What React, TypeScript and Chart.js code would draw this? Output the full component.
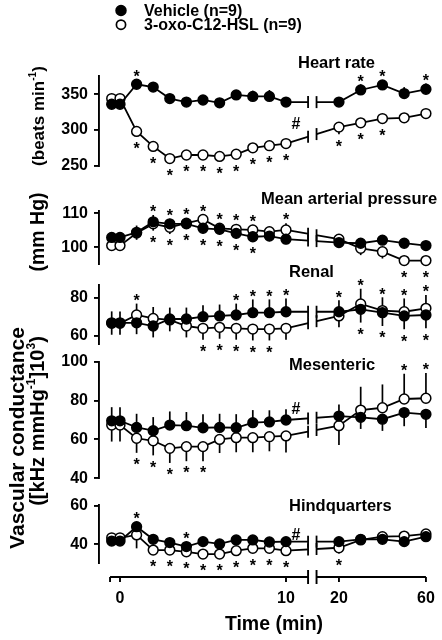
import React, { useEffect, useRef } from "react";
import { Chart, registerables } from "chart.js";

Chart.register(...registerables);

const FONT = '"Liberation Sans", Arial, Helvetica, sans-serif';
Chart.defaults.font.family = FONT;

const W = 442;
const H = 640;

// ---------------- data ----------------
const TIMES = [-0.5, 0, 1, 2, 3, 4, 5, 6, 7, 8, 9, 10, 20, 30, 40, 50, 60];

const X_TICK_TIMES = [0, 10, 20, 60];
const X_TICK_LABELS = ["0", "10", "20", "60"];

// Heart rate (beats/min)
const HR_VEHICLE = [336, 336, 364, 360, 344, 339, 342, 338, 349, 347, 347, 339, 339, 356, 363, 351, 357];
const HR_VEHICLE_SEM = [4, 4, 7, 6, 4, 4, 7, 4, 7, 8, 9, 7, 3, 8, 5, 9, 8];
const HR_OXO = [344, 344, 298, 277, 260, 265, 265, 263, 266, 275, 278, 281, 304, 310, 316, 317, 323];
const HR_OXO_SEM = [4, 4, 7, 7, 6, 5, 5, 5, 5, 5, 5, 5, 10, 6, 7, 4, 4];
const HR_STARS_ABOVE = [1, 30, 40, 60];
const HR_STARS_BELOW = [1, 2, 3, 4, 5, 6, 7, 8, 9, 10, 20, 30, 40];
const HR_TICKS = [250, 300, 350];
const HR_HASH = { t: 10.6, v: 309 };

// Mean arterial pressure (mm Hg)
const MAP_VEHICLE = [102.9, 102.9, 104.4, 107.5, 106.9, 106.9, 105.6, 105.3, 104.1, 103.1, 103.3, 102.4, 101.4, 101.2, 102.1, 101.2, 100.5];
const MAP_VEHICLE_SEM = [1.5, 1.5, 2, 2, 1.5, 1.5, 1.5, 1.5, 1.5, 1.5, 1.5, 1.5, 1.5, 1.5, 1.5, 1.2, 1.2];
const MAP_OXO = [100.5, 100.5, 104.2, 106.9, 105.9, 107.1, 108.2, 105.6, 105.3, 105.1, 104.6, 105.1, 102.4, 99.7, 98.7, 96.1, 96.1];
const MAP_OXO_SEM = [1.5, 1.5, 2, 2, 2, 1.5, 1.5, 1.5, 1.5, 1.5, 1.5, 2, 1.5, 2, 2, 1.5, 1.5];
const MAP_STARS_ABOVE = [2, 3, 4, 5, 6, 7, 8, 10];
const MAP_STARS_BELOW = [2, 3, 4, 5, 6, 7, 8, 50, 60];
const MAP_TICKS = [100, 110];

// Renal vascular conductance
const REN_VEHICLE = [66.8, 66.8, 66.8, 65.1, 68.8, 68.8, 70.0, 70.4, 70.9, 72.1, 72.1, 72.6, 72.6, 73.9, 72.1, 70.4, 70.9];
const REN_VEHICLE_SEM = [6, 6, 6, 6, 6, 6, 6, 6, 6, 7, 7, 7, 6, 7, 7, 7, 7];
const REN_OXO = [66.5, 66.5, 70.9, 69.1, 68.3, 65.1, 63.9, 64.4, 63.9, 63.5, 63.5, 63.9, 70.4, 76.7, 73.2, 72.6, 74.4];
const REN_OXO_SEM = [6, 6, 6, 6, 6, 6, 6, 6, 6, 6, 6, 6, 6, 8, 7, 7, 7];
const REN_STARS_ABOVE = [1, 7, 8, 9, 10, 20, 30, 40, 50, 60];
const REN_STARS_BELOW = [5, 6, 7, 8, 9, 30, 40, 50, 60];
const REN_TICKS = [60, 80];

// Mesenteric vascular conductance
const MES_VEHICLE = [69.6, 69.6, 66.2, 64.5, 67.4, 67.1, 66.0, 66.2, 66.0, 68.6, 69.0, 70.0, 72.0, 71.4, 70.4, 73.8, 72.9];
const MES_VEHICLE_SEM = [7, 7, 7, 7, 7, 7, 7, 7, 7, 6.5, 6, 5.5, 6, 6, 6, 7, 7];
const MES_OXO = [67.4, 67.4, 60.6, 59.3, 55.4, 56.3, 56.3, 60.0, 60.9, 60.9, 61.4, 61.8, 67.1, 75.1, 76.3, 80.8, 81.2];
const MES_OXO_SEM = [8.5, 8.5, 7.5, 7.5, 7.5, 7.5, 7.5, 7, 7.5, 7.5, 7.5, 8.5, 10, 12, 12, 13, 13];
const MES_STARS_ABOVE = [50, 60];
const MES_STARS_BELOW = [1, 2, 3, 4, 5];
const MES_TICKS = [40, 60, 80, 100];
const MES_HASH = { t: 10.6, v: 75.9 };

// Hindquarters vascular conductance
const HQ_VEHICLE = [41.7, 41.7, 49.2, 42.6, 40.9, 38.8, 41.4, 40.2, 42.3, 42.3, 41.2, 41.4, 41.4, 42.6, 42.6, 41.4, 44.0];
const HQ_VEHICLE_SEM = [2, 2, 2, 2, 2, 2, 2, 2, 2, 2, 2, 2, 2, 2, 2, 2, 2];
const HQ_OXO = [43.4, 43.4, 44.9, 37.0, 37.0, 36.1, 34.9, 34.9, 36.7, 37.9, 37.9, 36.7, 38.2, 42.3, 44.0, 44.3, 45.4];
const HQ_OXO_SEM = [2, 2, 7, 2, 2, 2, 2, 2, 2, 2, 2, 2, 3, 2, 2, 2, 2];
const HQ_STARS_ABOVE = [1, 4];
const HQ_STARS_BELOW = [2, 3, 4, 5, 6, 7, 8, 9, 10, 20];
const HQ_TICKS = [40, 60];
const HQ_HASH = { t: 10.6, v: 45.4 };

const LEGEND_VEHICLE = "Vehicle (n=9)";
const LEGEND_OXO = "3-oxo-C12-HSL (n=9)";

// ---------------- x-axis geometry (display units, broken axis) ----------------
const X_MIN = -1.265;
const X_MAX = 18.675;
const RIGHT_START = 13.19; // display position of t = 20 min
const RIGHT_STEP = 0.131; // display units per minute after the break
const BREAK_L = 11.33;
const BREAK_R = 11.84;
const AXIS_START = -0.6;
const tx = (t: number) => (t <= 15 ? t : RIGHT_START + (t - 20) * RIGHT_STEP);

type Panel = {
  title: string;
  titleX: number;
  titleY: number;
  vehicle: number[];
  vehicleSem: number[];
  oxo: number[];
  oxoSem: number[];
  starsAbove: number[];
  starsBelow: number[];
  hash?: { t: number; v: number };
  ticks: number[];
  min: number;
  max: number;
  top: number;
  bottom: number;
};

const PANELS: Panel[] = [
  {
    title: "Heart rate", titleX: 298, titleY: 68,
    vehicle: HR_VEHICLE, vehicleSem: HR_VEHICLE_SEM, oxo: HR_OXO, oxoSem: HR_OXO_SEM,
    starsAbove: HR_STARS_ABOVE, starsBelow: HR_STARS_BELOW, hash: HR_HASH,
    ticks: HR_TICKS, min: 250, max: 375, top: 76.4, bottom: 165.7,
  },
  {
    title: "Mean arterial pressure", titleX: 261, titleY: 204,
    vehicle: MAP_VEHICLE, vehicleSem: MAP_VEHICLE_SEM, oxo: MAP_OXO, oxoSem: MAP_OXO_SEM,
    starsAbove: MAP_STARS_ABOVE, starsBelow: MAP_STARS_BELOW,
    ticks: MAP_TICKS, min: 95, max: 110.8, top: 210.6, bottom: 264.3,
  },
  {
    title: "Renal", titleX: 289, titleY: 277,
    vehicle: REN_VEHICLE, vehicleSem: REN_VEHICLE_SEM, oxo: REN_OXO, oxoSem: REN_OXO_SEM,
    starsAbove: REN_STARS_ABOVE, starsBelow: REN_STARS_BELOW,
    ticks: REN_TICKS, min: 55.5, max: 86.5, top: 285.35, bottom: 344.25,
  },
  {
    title: "Mesenteric", titleX: 289, titleY: 370,
    vehicle: MES_VEHICLE, vehicleSem: MES_VEHICLE_SEM, oxo: MES_OXO, oxoSem: MES_OXO_SEM,
    starsAbove: MES_STARS_ABOVE, starsBelow: MES_STARS_BELOW, hash: MES_HASH,
    ticks: MES_TICKS, min: 40, max: 100, top: 361.7, bottom: 478.3,
  },
  {
    title: "Hindquarters", titleX: 289, titleY: 511,
    vehicle: HQ_VEHICLE, vehicleSem: HQ_VEHICLE_SEM, oxo: HQ_OXO, oxoSem: HQ_OXO_SEM,
    starsAbove: HQ_STARS_ABOVE, starsBelow: HQ_STARS_BELOW, hash: HQ_HASH,
    ticks: HQ_TICKS, min: 30.2, max: 60.4, top: 505.2, bottom: 563.1,
  },
];

const STAR_SIZE = 16;

function decoPlugin(p: Panel, first: boolean, last: boolean) {
  const barEnds = (i: number) => {
    const vUp = p.vehicle[i] >= p.oxo[i];
    return [
      p.vehicle[i] + (vUp ? 1 : -1) * p.vehicleSem[i],
      p.oxo[i] + (vUp ? -1 : 1) * p.oxoSem[i],
    ];
  };
  return {
    id: "deco",
    beforeDatasetsDraw(chart: any) {
      const ctx = chart.ctx;
      const ys = chart.scales.y;
      const metas = [chart.getDatasetMeta(0).data, chart.getDatasetMeta(1).data];
      ctx.save();
      ctx.strokeStyle = "#000";
      ctx.lineWidth = 1.7;
      TIMES.forEach((_, i) => {
        const ends = barEnds(i);
        [0, 1].forEach((d) => {
          const pt = metas[d][i];
          ctx.beginPath();
          ctx.moveTo(pt.x, pt.y);
          ctx.lineTo(pt.x, ys.getPixelForValue(ends[d]));
          ctx.stroke();
        });
      });
      ctx.restore();
    },
    afterDatasetsDraw(chart: any) {
      const ctx = chart.ctx;
      const xs = chart.scales.x;
      const ys = chart.scales.y;
      const area = chart.chartArea;
      const bl = xs.getPixelForValue(BREAK_L);
      const br = xs.getPixelForValue(BREAK_R);
      ctx.save();
      ctx.clearRect(bl, area.top, br - bl, area.bottom - area.top);
      // break marks on each line
      const iA = TIMES.indexOf(10);
      const iB = TIMES.indexOf(20);
      ctx.strokeStyle = "#000";
      ctx.lineWidth = 1.8;
      [0, 1].forEach((d) => {
        const data = chart.getDatasetMeta(d).data;
        const a = data[iA];
        const b = data[iB];
        [bl, br].forEach((bx) => {
          const f = (bx - a.x) / (b.x - a.x);
          const yy = a.y + f * (b.y - a.y);
          ctx.beginPath();
          ctx.moveTo(bx, yy - 6);
          ctx.lineTo(bx, yy + 6);
          ctx.stroke();
        });
      });
      // significance stars
      const metas = [chart.getDatasetMeta(0).data, chart.getDatasetMeta(1).data];
      ctx.fillStyle = "#000";
      ctx.textAlign = "center";
      ctx.textBaseline = "alphabetic";
      ctx.font = `bold ${STAR_SIZE}px ${FONT}`;
      const extent = (i: number) => {
        const ends = barEnds(i).map((v) => ys.getPixelForValue(v));
        const c = [metas[0][i].y, metas[1][i].y];
        return {
          x: metas[0][i].x,
          top: Math.min(ends[0], ends[1], c[0] - 5, c[1] - 5),
          bottom: Math.max(ends[0], ends[1], c[0] + 5, c[1] + 5),
        };
      };
      p.starsAbove.forEach((t) => {
        const e = extent(TIMES.indexOf(t));
        const cy = e.top - 7;
        ctx.fillText("*", e.x, cy + STAR_SIZE * 0.58);
      });
      p.starsBelow.forEach((t) => {
        const e = extent(TIMES.indexOf(t));
        const cy = e.bottom + 8;
        ctx.fillText("*", e.x, cy + STAR_SIZE * 0.58);
      });
      if (p.hash) {
        const hx = xs.getPixelForValue(tx(p.hash.t));
        const hy = ys.getPixelForValue(p.hash.v);
        ctx.fillText("#", hx, hy + STAR_SIZE * 0.36);
      }
      ctx.restore();
    },
    afterDraw(chart: any) {
      const ctx = chart.ctx;
      ctx.save();
      ctx.fillStyle = "#000";
      ctx.textBaseline = "alphabetic";
      ctx.textAlign = "left";
      ctx.font = `bold 16.5px ${FONT}`;
      ctx.fillText(p.title, p.titleX, p.titleY);
      if (first) {
        ctx.font = `bold 16px ${FONT}`;
        ctx.strokeStyle = "#000";
        ctx.lineWidth = 1.7;
        ctx.beginPath();
        ctx.arc(121, 10.5, 4.9, 0, Math.PI * 2);
        ctx.fillStyle = "#000";
        ctx.fill();
        ctx.stroke();
        ctx.beginPath();
        ctx.arc(121, 24.7, 4.6, 0, Math.PI * 2);
        ctx.fillStyle = "#fff";
        ctx.fill();
        ctx.stroke();
        ctx.fillStyle = "#000";
        ctx.fillText(LEGEND_VEHICLE, 144, 15.5);
        ctx.fillText(LEGEND_OXO, 144, 29.5);
      }
      if (last) {
        const xs = chart.scales.x;
        const yA = 577;
        ctx.strokeStyle = "#000";
        ctx.lineWidth = 1.9;
        const px = (v: number) => xs.getPixelForValue(v);
        ctx.beginPath();
        ctx.moveTo(px(AXIS_START), yA);
        ctx.lineTo(px(BREAK_L), yA);
        ctx.moveTo(px(BREAK_R), yA);
        ctx.lineTo(px(tx(60)), yA);
        [AXIS_START, ...X_TICK_TIMES.map(tx)].forEach((v) => {
          ctx.moveTo(px(v), yA);
          ctx.lineTo(px(v), yA + 5);
        });
        [BREAK_L, BREAK_R].forEach((v) => {
          ctx.moveTo(px(v), yA - 7);
          ctx.lineTo(px(v), yA + 7);
        });
        ctx.stroke();
        ctx.fillStyle = "#000";
        ctx.textAlign = "center";
        ctx.font = `bold 19.5px ${FONT}`;
        ctx.fillText("Time (min)", 274, 630);
      }
      ctx.restore();
    },
  };
}

function buildConfig(p: Panel, idx: number): any {
  const first = idx === 0;
  const last = idx === PANELS.length - 1;
  const ds = (label: string, values: number[], fillColor: string) => ({
    label,
    data: TIMES.map((t, i) => ({ x: tx(t), y: values[i] })),
    borderColor: "#000",
    backgroundColor: fillColor,
    borderWidth: 1.8,
    pointRadius: 4.9,
    pointBorderWidth: 1.5,
    pointBackgroundColor: fillColor,
    pointBorderColor: "#000",
    tension: 0,
    fill: false,
    clip: false,
  });
  return {
    type: "line",
    data: {
      datasets: [ds(LEGEND_VEHICLE, p.vehicle, "#000"), ds(LEGEND_OXO, p.oxo, "#fff")],
    },
    options: {
      animation: false,
      responsive: false,
      devicePixelRatio: 1,
      events: [],
      layout: {
        padding: { top: p.top, bottom: last ? 0 : H - p.bottom, left: 0, right: 12 },
      },
      plugins: { legend: { display: false }, tooltip: { enabled: false }, title: { display: false } },
      scales: {
        x: last
          ? {
              type: "linear",
              min: X_MIN,
              max: X_MAX,
              display: true,
              afterBuildTicks: (s: any) => {
                s.ticks = X_TICK_TIMES.map((t) => ({ value: tx(t) }));
              },
              afterFit: (s: any) => {
                s.height = H - p.bottom;
                s.paddingLeft = 0;
                s.paddingRight = 0;
              },
              grid: { display: false, drawTicks: false },
              border: { display: false },
              ticks: {
                autoSkip: false,
                maxRotation: 0,
                padding: 26,
                color: "#000",
                font: { size: 16, weight: "bold", family: FONT },
                callback: (_v: any, i: number) => X_TICK_LABELS[i],
              },
            }
          : { type: "linear", min: X_MIN, max: X_MAX, display: false },
        y: {
          type: "linear",
          min: p.min,
          max: p.max,
          afterBuildTicks: (s: any) => {
            s.ticks = p.ticks.map((v) => ({ value: v }));
          },
          afterFit: (s: any) => {
            s.width = 99;
            s.paddingTop = 0;
            s.paddingBottom = 0;
          },
          border: { display: true, color: "#000", width: 1.9 },
          grid: { drawOnChartArea: false, drawTicks: true, tickLength: 5, color: "#000", lineWidth: 1.9 },
          ticks: {
            autoSkip: false,
            padding: 6,
            color: "#000",
            font: { size: 16, weight: "bold", family: FONT },
          },
        },
      },
    },
    plugins: [decoPlugin(p, first, last)],
  };
}

function PanelChart({ panel, index }: { panel: Panel; index: number }) {
  const ref = useRef<HTMLCanvasElement | null>(null);
  useEffect(() => {
    if (!ref.current) return;
    const chart = new Chart(ref.current, buildConfig(panel, index));
    return () => chart.destroy();
  }, [panel, index]);
  return (
    <canvas
      ref={ref}
      width={W}
      height={H}
      style={{ position: "absolute", left: 0, top: 0, width: W, height: H }}
    />
  );
}

const rotStyle = (cx: number, cy: number, size: number): React.CSSProperties => ({
  position: "absolute",
  left: cx,
  top: cy,
  transform: "translate(-50%, -50%) rotate(-90deg)",
  whiteSpace: "nowrap",
  fontFamily: FONT,
  fontWeight: "bold",
  fontSize: size,
  lineHeight: 1,
  color: "#000",
  zIndex: 10,
});

const supStyle: React.CSSProperties = {
  fontSize: "0.6em",
  position: "relative",
  top: "-0.75em",
};

export default function App() {
  return (
    <div style={{ position: "absolute", left: 0, top: 0, width: W, height: H, background: "#fff", overflow: "hidden" }}>
      {PANELS.map((p, i) => (
        <PanelChart key={i} panel={p} index={i} />
      ))}
      <div style={rotStyle(37.5, 116, 17)}>
        (beats min<span style={supStyle}>-1</span>)
      </div>
      <div style={rotStyle(37.5, 232, 19.5)}>(mm Hg)</div>
      <div style={rotStyle(15.5, 438, 21)}>Vascular conductance</div>
      <div style={rotStyle(36.5, 421, 20)}>
        ([kHz mmHg<span style={supStyle}>-1</span>]10<span style={supStyle}>3</span>)
      </div>
    </div>
  );
}
